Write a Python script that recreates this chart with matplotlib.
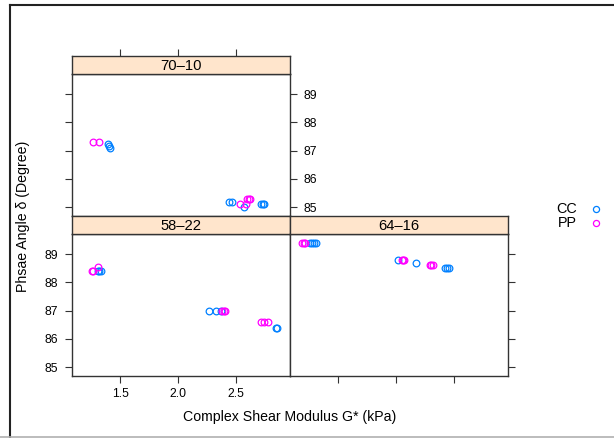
import matplotlib
matplotlib.use("Agg")
import matplotlib.pyplot as plt
from matplotlib.lines import Line2D

plt.rcParams['font.family'] = ['Liberation Sans', 'DejaVu Sans']

# ---- data -------------------------------------------------------------
panels = ["70\u201310", "58\u201322", "64\u201316"]
groups = ["CC", "PP"]

cc_70_10_x = [1.397, 1.405, 1.411, 2.44, 2.463, 2.564, 2.716, 2.731, 2.741]
cc_70_10_y = [87.23, 87.18, 87.09, 85.19, 85.19, 85.00, 85.10, 85.10, 85.10]
pp_70_10_x = [1.267, 1.319, 2.532, 2.581, 2.592, 2.607, 2.618]
pp_70_10_y = [87.30, 87.30, 85.11, 85.11, 85.30, 85.30, 85.30]

cc_58_22_x = [1.305, 1.319, 1.331, 2.265, 2.322, 2.368, 2.845, 2.850]
cc_58_22_y = [88.40, 88.40, 88.40, 87.00, 87.00, 87.00, 86.40, 86.40]
pp_58_22_x = [1.253, 1.267, 1.308, 2.379, 2.394, 2.405, 2.713, 2.741, 2.771]
pp_58_22_y = [88.40, 88.40, 88.53, 87.00, 87.00, 87.00, 86.60, 86.60, 86.60]

cc_64_16_x = [1.262, 1.276, 1.293, 1.308, 2.014, 2.172, 2.420, 2.440, 2.460]
cc_64_16_y = [89.40, 89.40, 89.40, 89.40, 88.80, 88.70, 88.50, 88.50, 88.50]
pp_64_16_x = [1.190, 1.203, 1.218, 2.049, 2.064, 2.072, 2.290, 2.305, 2.319]
pp_64_16_y = [89.40, 89.40, 89.40, 88.80, 88.80, 88.80, 88.60, 88.60, 88.60]

x_ticks = [1.5, 2.0, 2.5]
x_tick_labels = ["1.5", "2.0", "2.5"]
y_ticks = [85, 86, 87, 88, 89]
y_tick_labels = ["85", "86", "87", "88", "89"]

series = {
    panels[0]: [(cc_70_10_x, cc_70_10_y), (pp_70_10_x, pp_70_10_y)],
    panels[1]: [(cc_58_22_x, cc_58_22_y), (pp_58_22_x, pp_58_22_y)],
    panels[2]: [(cc_64_16_x, cc_64_16_y), (pp_64_16_x, pp_64_16_y)],
}

# ---- styling ----------------------------------------------------------
colors = ["#0080ff", "#ff00ff"]
strip_bg = "#ffe5cc"
frame_col = "#333333"
XLIM = (1.086, 2.963)
YLIM = (84.69, 89.71)

W, H = 614, 438
fig = plt.figure(figsize=(W / 100, H / 100), dpi=100)


def box(x0, y0, x1, y1):
    """Pixel box (top-left origin) -> figure fraction rect."""
    return [x0 / W, 1 - y1 / H, (x1 - x0) / W, (y1 - y0) / H]


# column / row extents in pixels
cols = [(72.3, 290.0), (290.0, 507.7)]
rows = {"top": (56, 74, 216), "bottom": (216, 234, 376)}

layout = {
    panels[0]: (0, "top"),
    panels[1]: (0, "bottom"),
    panels[2]: (1, "bottom"),
}

tick_len = 5
for name, (ci, ri) in layout.items():
    x0, x1 = cols[ci]
    s0, s1, p1 = rows[ri]
    ax = fig.add_axes(box(x0, s1, x1, p1))
    st = fig.add_axes(box(x0, s0, x1, s1))

    for (xs, ys), c in zip(series[name], colors):
        ax.plot(xs, ys, linestyle="none", marker="o", markersize=4.8,
                markerfacecolor="none", markeredgecolor=c, markeredgewidth=0.9)

    ax.set_xlim(*XLIM)
    ax.set_ylim(*YLIM)
    for sp in ax.spines.values():
        sp.set_color(frame_col)
        sp.set_linewidth(1.0)

    ax.set_xticks(x_ticks)
    ax.set_yticks(y_ticks)
    ax.tick_params(direction="out", length=tick_len, width=0.8, color=frame_col,
                   labelsize=8.7, pad=3.5)
    ax.tick_params(axis="y", pad=5)

    # default: no ticks anywhere, then switch on per position
    ax.tick_params(bottom=False, labelbottom=False, left=False, labelleft=False,
                   top=False, labeltop=False, right=False, labelright=False)

    if ri == "bottom":
        ax.tick_params(bottom=True)
        if ci == 0:
            ax.tick_params(labelbottom=True)
            ax.set_xticklabels(x_tick_labels)
    if ci == 0:
        ax.tick_params(left=True)
        if ri == "bottom":
            ax.tick_params(labelleft=True)
            ax.set_yticklabels(y_tick_labels)
    if ri == "top" or ci == 1:
        ax.tick_params(right=True)
        if ri == "top":
            ax.tick_params(labelright=True)
            ax.set_yticklabels(y_tick_labels)

    # strip
    st.set_facecolor(strip_bg)
    st.set_xlim(*XLIM)
    st.set_ylim(0, 1)
    st.set_yticks([])
    st.set_xticks(x_ticks)
    st.tick_params(bottom=False, labelbottom=False, top=(ri == "top"),
                   labeltop=False, direction="out", length=tick_len, width=0.8,
                   color=frame_col)
    for sp in st.spines.values():
        sp.set_color(frame_col)
        sp.set_linewidth(1.0)
    st.text(0.5, 0.47, name, transform=st.transAxes, ha="center", va="center",
            fontsize=10.6)

# axis titles
fig.text(290 / W, 1 - 417 / H, "Complex Shear Modulus G* (kPa)",
         ha="center", va="center", fontsize=10.2)
fig.text(23 / W, 1 - 216 / H, "Phsae Angle \u03b4 (Degree)", rotation=90,
         ha="center", va="center", fontsize=10.2)

# key
for i, (g, c) in enumerate(zip(groups, colors)):
    yy = 1 - (209 + 14 * i) / H
    fig.text(567 / W, yy, g, ha="center", va="center", fontsize=10.4)
    fig.add_artist(Line2D([596 / W], [yy], transform=fig.transFigure,
                          linestyle="none", marker="o", markersize=4.4,
                          markerfacecolor="none", markeredgecolor=c,
                          markeredgewidth=0.9))

# outer frame
fig.add_artist(Line2D([9.5 / W, 9.5 / W], [0, 1 - 5 / H],
                      transform=fig.transFigure, color="#222222", lw=1.5))
fig.add_artist(Line2D([9.5 / W, 1], [1 - 5 / H, 1 - 5 / H],
                      transform=fig.transFigure, color="#222222", lw=1.5))
fig.add_artist(Line2D([0, 1], [0.6 / H, 0.6 / H],
                      transform=fig.transFigure, color="#b0b0b0", lw=1.2))

fig.savefig("out.png", dpi=100)
